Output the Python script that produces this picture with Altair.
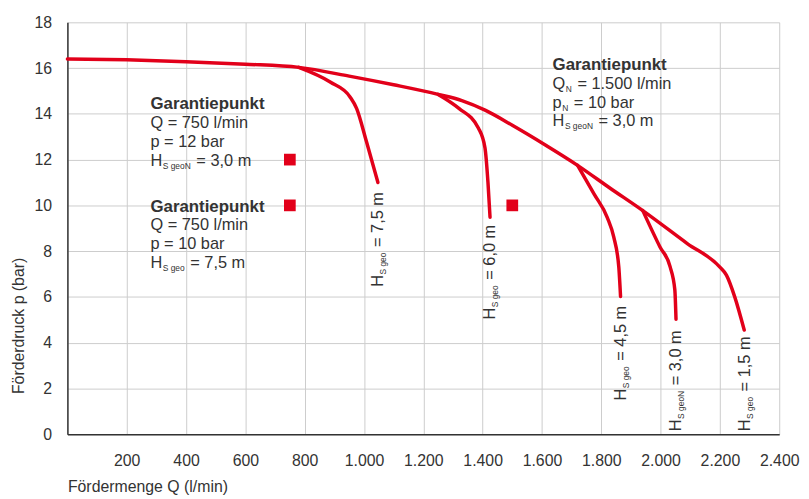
import altair as alt
import pandas as pd

RED = "#e2001a"
TXT = "#333333"
GRID = "#cccccc"
FONT = "Liberation Sans"
FS = 16          # axis text
AFS = 16.5       # annotation text
SUB_FS = 8.5

# ---------------- data ----------------
x_ticks = [0, 200, 400, 600, 800, 1000, 1200, 1400, 1600, 1800, 2000, 2200, 2400]
y_ticks = [0, 2, 4, 6, 8, 10, 12, 14, 16, 18]

# main characteristic (ends as H_S geo = 1,5 m)
main_q = [0, 200, 400, 600, 780, 950, 1100, 1250, 1330, 1410, 1500, 1610, 1720, 1830, 1940, 2090, 2200, 2222, 2250, 2282]
main_p = [16.40, 16.36, 16.28, 16.17, 16.03, 15.65, 15.27, 14.85, 14.58, 14.15, 13.50, 12.65, 11.75, 10.75, 9.77, 8.33, 7.30, 6.95, 6.00, 4.55]
# branches
b75_q = [780, 886, 953, 975, 1008, 1047]
b75_p = [16.03, 15.39, 14.74, 14.24, 12.80, 11.00]
b60_q = [1250, 1320, 1386, 1408, 1418, 1425]
b60_p = [14.85, 14.24, 13.37, 12.51, 11.00, 9.48]
b45_q = [1720, 1776, 1820, 1842, 1859, 1865]
b45_p = [11.75, 10.49, 9.48, 8.62, 7.32, 6.02]
b30_q = [1940, 1998, 2032, 2048, 2052]
b30_p = [9.77, 8.18, 7.32, 6.31, 5.02]

# guarantee points
sq_q = [750, 750, 1500]
sq_p = [12, 10, 10]

# annotation blocks
bold_text = ["Garantiepunkt", "Garantiepunkt", "Garantiepunkt"]
bold_q = [280, 280, 1636]
bold_p = [14.20, 9.73, 15.93]

plain_text = ["Q = 750 l/min", "p = 12 bar", "Q = 750 l/min", "p = 10 bar"]
plain_q = [280, 280, 280, 280]
plain_p = [13.38, 12.56, 8.91, 8.08]

subline_head = ["H", "H", "Q", "p", "H"]
subline_sub = ["S geoN", "S geo", "N", "N", "S geoN"]
subline_rest = ["= 3,0 m", "= 7,5 m", "= 1.500 l/min", "= 10 bar", "= 3,0 m"]
subline_q = [280, 280, 1636, 1636, 1636]
subline_p = [11.74, 7.26, 15.09, 14.27, 13.45]

# rotated curve labels
lab_q = [1047, 1425, 1865, 2052, 2282]
lab_p = [6.44, 5.01, 1.47, 0.13, 0.13]
lab_sub = ["S geo", "S geo", "S geo", "S geoN", "S geo"]
lab_rest = ["= 7,5 m", "= 6,0 m", "= 4,5 m", "= 3,0 m", "= 1,5 m"]

# ---------------- helpers ----------------
WID = {"H": 722, "Q": 778, "p": 556, "S": 667, " ": 278, "g": 556, "e": 556, "o": 556, "N": 722}


def tw(s, size):
    return sum(WID[c] for c in s) * size / 1000.0


xs = alt.Scale(domain=[0, 2400], nice=False, zero=False)
ys = alt.Scale(domain=[0, 18], nice=False, zero=False)

x_axis = alt.Axis(
    values=x_ticks,
    labelExpr="datum.value == 0 ? '' : replace(format(datum.value, ','), ',', '.')",
    labelOverlap=False, labelBound=False, labelFlush=False,
    grid=True, gridColor=GRID, gridWidth=1, ticks=False,
    domainColor=TXT, domainWidth=1.5,
    labelFont=FONT, labelFontSize=FS, labelColor=TXT, labelPadding=19,
    title="Fördermenge Q (l/min)", titleFont=FONT, titleFontSize=FS, titleFontWeight="normal",
    titleColor=TXT, titleAnchor="start", titleAlign="left", titleBaseline="alphabetic",
    titleX=0, titleY=58,
)
y_axis = alt.Axis(
    values=y_ticks,
    labelOverlap=False,
    grid=True, gridColor=GRID, gridWidth=1, ticks=False,
    domainColor=TXT, domainWidth=1.5,
    labelFont=FONT, labelFontSize=FS, labelColor=TXT, labelPadding=16,
    title="Förderdruck p (bar)", titleFont=FONT, titleFontSize=FS, titleFontWeight="normal",
    titleColor=TXT, titleAngle=270, titleAlign="left", titleBaseline="middle",
    titleX=-49.5, titleY=375,
)

X = alt.X("q:Q", scale=xs, axis=x_axis)
Y = alt.Y("p:Q", scale=ys, axis=y_axis)


def text_layer(df, dx=0.0, dy=0.0, size=AFS, weight="normal", angle=0):
    return alt.Chart(df).mark_text(
        align="left", baseline="alphabetic", dx=dx, dy=dy, font=FONT,
        fontSize=size, fontWeight=weight, color=TXT, angle=angle
    ).encode(x=X, y=Y, text="t:N")


rows = []
for name, qs, ps in [("main", main_q, main_p), ("7,5", b75_q, b75_p), ("6,0", b60_q, b60_p),
                     ("4,5", b45_q, b45_p), ("3,0", b30_q, b30_p)]:
    for i, (q, p) in enumerate(zip(qs, ps)):
        rows.append({"curve": name, "order": i, "q": q, "p": p})
lines_df = pd.DataFrame(rows)

lines = alt.Chart(lines_df).mark_line(
    color=RED, strokeWidth=3.5, interpolate="monotone", strokeCap="round", strokeJoin="round"
).encode(x=X, y=Y, detail="curve:N", order="order:Q")

squares = alt.Chart(pd.DataFrame({"q": sq_q, "p": sq_p})).mark_square(
    color=RED, size=140, opacity=1
).encode(x=X, y=Y)

SPACE = tw(" ", AFS)

layers = [lines, squares]
layers.append(text_layer(pd.DataFrame({"t": bold_text, "q": bold_q, "p": bold_p}), weight="bold", size=17))
layers.append(text_layer(pd.DataFrame({"t": plain_text, "q": plain_q, "p": plain_p})))
layers.append(text_layer(pd.DataFrame({"t": subline_head, "q": subline_q, "p": subline_p})))

for head, sub, rest, q, p in zip(subline_head, subline_sub, subline_rest, subline_q, subline_p):
    dx_sub = tw(head, AFS) + 0.5
    dx_rest = dx_sub + tw(sub, SUB_FS) + 1.0 + SPACE
    layers.append(text_layer(pd.DataFrame({"t": [sub], "q": [q], "p": [p]}), dx=dx_sub, dy=3, size=SUB_FS))
    layers.append(text_layer(pd.DataFrame({"t": [rest], "q": [q], "p": [p]}), dx=dx_rest))

# rotated labels under the curve ends
layers.append(text_layer(pd.DataFrame({"t": ["H"] * len(lab_q), "q": lab_q, "p": lab_p}), dy=5.5, angle=270))
for sub, rest, q, p in zip(lab_sub, lab_rest, lab_q, lab_p):
    dx_sub = tw("H", AFS) + 0.5
    dx_rest = dx_sub + tw(sub, SUB_FS) + 1.0 + SPACE
    layers.append(text_layer(pd.DataFrame({"t": [sub], "q": [q], "p": [p]}), dx=dx_sub, dy=8.5, size=SUB_FS, angle=270))
    layers.append(text_layer(pd.DataFrame({"t": [rest], "q": [q], "p": [p]}), dx=dx_rest, dy=5.5, angle=270))

chart = alt.layer(*layers).properties(
    width=719, height=416,
    autosize=alt.AutoSizeParams(type="none"),
    padding={"left": 60, "top": 12, "right": 22, "bottom": 62},
).configure_view(strokeWidth=0)

chart.save("out.html", embed_options={"renderer": "svg", "actions": False})
